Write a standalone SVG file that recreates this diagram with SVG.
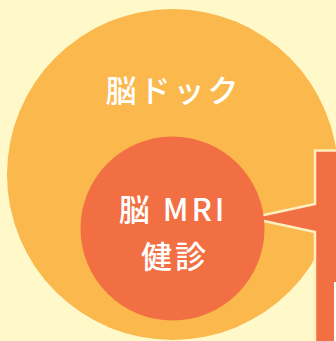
<svg xmlns="http://www.w3.org/2000/svg" width="336" height="341" viewBox="0 0 336 341">
<style>
.lbl{font-family:"Noto Sans CJK JP","Noto Sans",sans-serif;font-weight:500;fill:#ffffff;text-anchor:middle;}
</style>
<rect width="336" height="341" fill="#FFF8C8"/>
<g id="outer">
<circle cx="172.5" cy="174.5" r="165.5" fill="#FAB84D"/>
<text class="lbl" x="173.5" y="102" font-size="31" letter-spacing="3">脳ドック</text>
</g>
<g id="callout">
<path d="M315,150.5 H345 V350 H315 V232 L250,218 L315,204 Z" fill="#F26F43" stroke="#FFEFC0" stroke-width="2.5" stroke-linejoin="miter"/>
<rect x="334" y="282" width="10" height="70" fill="#FFFFFF"/>
</g>
<g id="inner">
<circle cx="172.5" cy="228.5" r="92" fill="#F26F43"/>
<text class="lbl" x="173" y="221" font-size="31" letter-spacing="3">脳 MRI</text>
<text class="lbl" x="175" y="268" font-size="31" letter-spacing="3">健診</text>
</g>
</svg>
